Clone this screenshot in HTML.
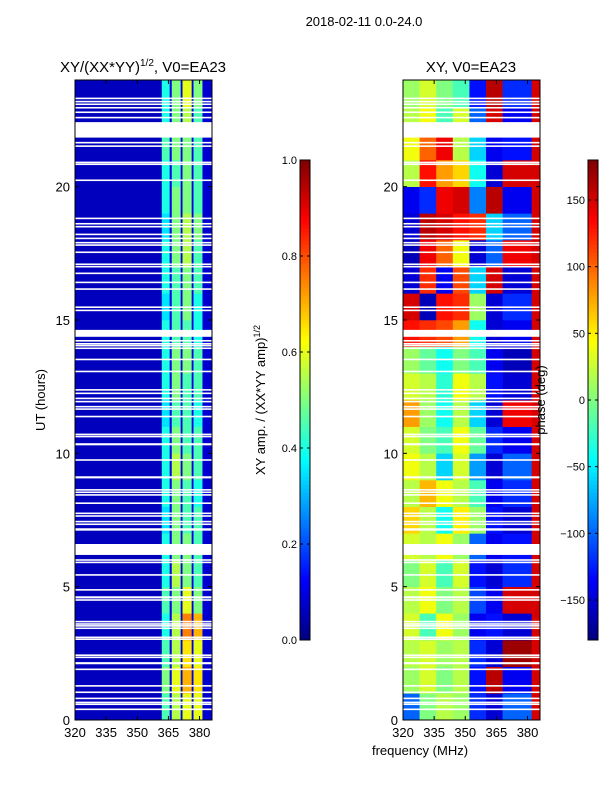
<!DOCTYPE html>
<html><head><meta charset="utf-8">
<style>
body{margin:0;background:#fff;}
svg{display:block;font-family:"Liberation Sans","DejaVu Sans",sans-serif;}
</style></head>
<body>
<svg id="fig" width="600" height="800" viewBox="0 0 600 800">
<text x="364" y="26" font-size="13" text-anchor="middle">2018-02-11 0.0-24.0</text>
<text x="143" y="72" font-size="15" text-anchor="middle">XY/(XX*YY)<tspan font-size="10" dy="-6">1/2</tspan><tspan dy="6">, V0=EA23</tspan></text>
<text x="471" y="72" font-size="15" text-anchor="middle">XY, V0=EA23</text>
<text transform="translate(45,400) rotate(-90)" font-size="13" text-anchor="middle">UT (hours)</text>
<text x="420" y="755" font-size="13" text-anchor="middle">frequency (MHz)</text>
<text transform="translate(265,400) rotate(-90)" font-size="13" text-anchor="middle">XY amp. / (XX*YY amp)<tspan font-size="9" dy="-5">1/2</tspan></text>
<g id="left"></g>
<g id="right"></g>
<g id="cb"></g>
<text transform="translate(545,400) rotate(-90)" font-size="13" text-anchor="middle">phase (deg)</text>
</svg>
<script>
const leftFreqEdges=[320,361.8,365.6,366.6,370.9,371.8,376.2,377.1,381.4,386];
const leftAmp=[
[0.06,0.45,0.1,0.55,0.1,0.6,0.1,0.6,0.08],
[0.06,0.5,0.1,0.6,0.1,0.7,0.1,0.65,0.08],
[0.06,0.45,0.1,0.55,0.1,0.65,0.1,0.6,0.08],
[0.06,0.4,0.1,0.55,0.1,0.75,0.1,0.7,0.08],
[0.06,0.45,0.1,0.5,0.1,0.6,0.1,0.5,0.08],
[0.06,0.4,0.1,0.55,0.1,0.5,0.1,0.45,0.08],
[0.06,0.4,0.1,0.5,0.1,0.5,0.1,0.45,0.08],
[0.06,0.35,0.1,0.5,0.1,0.45,0.1,0.45,0.08],
[0.06,0.4,0.1,0.5,0.1,0.45,0.1,0.4,0.08],
[0.06,0.4,0.1,0.55,0.1,0.5,0.1,0.45,0.08],
[0.06,0.4,0.1,0.5,0.1,0.45,0.1,0.45,0.08],
[0.06,0.35,0.1,0.45,0.1,0.45,0.1,0.4,0.08],
[0.06,0.4,0.1,0.5,0.1,0.45,0.1,0.45,0.08],
[0.06,0.4,0.1,0.5,0.1,0.5,0.1,0.45,0.08],
[0.06,0.4,0.1,0.45,0.1,0.45,0.1,0.4,0.08],
[0.06,0.35,0.1,0.45,0.1,0.5,0.1,0.4,0.08],
[0.06,0.4,0.1,0.45,0.1,0.5,0.1,0.45,0.08],
[0.06,0.4,0.1,0.5,0.1,0.55,0.1,0.45,0.08],
[0.06,0.35,0.1,0.5,0.1,0.55,0.1,0.5,0.08],
[0.06,0.4,0.1,0.5,0.1,0.5,0.1,0.45,0.08],
[0.06,0.4,0.1,0.45,0.1,0.5,0.1,0.45,0.08],
[0.06,0.45,0.1,0.5,0.1,0.5,0.1,0.45,0.08],
[0.06,0.4,0.1,0.5,0.1,0.55,0.1,0.45,0.08],
[0.06,0.4,0.1,0.5,0.1,0.6,0.1,0.5,0.08]];
const rightFreqEdges=[320,328,336,344,352,360,368,382,386];
const rightPhase=[
[-100,0,20,10,-120,-150,-100,150],
[10,30,0,20,-130,160,-140,150],
[20,30,10,20,-120,-150,170,150],
[30,-20,40,10,-140,-130,-150,150],
[20,40,0,20,-110,-140,150,150],
[0,30,-20,30,-130,-150,-120,150],
[30,20,40,10,-100,-140,-130,150],
[60,20,-40,50,10,-130,-150,150],
[20,70,40,20,-20,-140,-120,150],
[40,20,-60,30,-80,-150,-100,150],
[30,0,-20,40,-10,-120,-140,150],
[80,10,-40,20,-60,-150,140,150],
[30,20,-30,40,20,-130,-150,150],
[10,-10,-40,0,-20,-140,-160,150],
[130,120,110,80,-40,-150,-140,150],
[150,-160,130,120,10,-150,-120,150],
[-150,120,-140,110,-60,150,-150,150],
[-160,140,100,40,-150,-100,140,150],
[-150,160,150,130,120,-60,-100,150],
[-140,-120,140,150,-90,160,-140,150],
[20,130,80,60,-40,-150,150,150],
[40,100,140,20,-60,-140,-130,150],
[20,40,-20,30,-100,150,-140,150],
[10,30,0,-20,-130,160,-120,150]];
const timeEdges=[0,1,2,3,4,5,6,7,8,9,10,11,12,13,14,15,16,17,18,19,20,21,22,23,24];
const gapTimes=[23.31,23.19,23.09,22.96,22.79,22.59,21.65,21.52,20.91,20.84,20.24,18.81,18.61,18.5,18.21,18.06,17.9,17.81,17.54,17.09,17.0,16.75,16.41,16.16,15.48,15.36,14.22,14.11,14.04,13.94,13.52,12.38,12.25,12.06,11.94,11.75,11.66,11.38,10.71,10.63,9.75,8.63,8.54,8.44,8.13,7.75,7.65,7.44,7.34,6.0,5.91,5.44,4.88,4.5,3.69,3.6,3.53,3.44,3.1,3.03,2.43,2.35,1.9,1.28,1.04,0.81,0.66,0.59,0.4];
const wideGaps=[[21.84,22.42],[14.37,14.63],[13.04,13.1],[10.3,10.38],[9.06,9.14],[7.1,7.19],[6.19,6.6],[4.56,4.64],[2.09,2.17]];
const yTicks=[0,5,10,15,20];
const xTicks=[320,335,350,365,380];
const ampTicks=[0.0,0.2,0.4,0.6,0.8,1.0];
const phaseTicks=[-150,-100,-50,0,50,100,150];

const NS="http://www.w3.org/2000/svg";
function jet(v){v=Math.max(0,Math.min(1,v));
 const r=Math.max(0,Math.min(1,1.5-Math.abs(4*v-3)));
 const g=Math.max(0,Math.min(1,1.5-Math.abs(4*v-2)));
 const b=Math.max(0,Math.min(1,1.5-Math.abs(4*v-1)));
 return `rgb(${Math.round(r*255)},${Math.round(g*255)},${Math.round(b*255)})`;}
function mk(tag,at,parent){const e=document.createElementNS(NS,tag);for(const k in at)e.setAttribute(k,at[k]);parent.appendChild(e);return e;}
const Y0=80,Y1=720;
const yScale=t=>Y1-(t/24)*(Y1-Y0);
function panel(g,x0,x1,edges,vals,norm){
 const xs=f=>x0+(f-320)/(386-320)*(x1-x0);
 for(let r=0;r<vals.length;r++)for(let c=0;c<vals[r].length;c++){
  const xa=xs(edges[c]),xb=xs(edges[c+1]),ya=yScale(timeEdges[r+1]),yb=yScale(timeEdges[r]);
  const e=mk('rect',{x:xa,y:ya,width:xb-xa+0.3,height:yb-ya+0.3,fill:jet(norm(vals[r][c]))},g);
  
  
 }
 gapTimes.forEach(t=>{const e=mk('rect',{x:x0,y:yScale(t)-0.8,width:x1-x0,height:1.6,fill:'#fff'},g);
  
  });
 wideGaps.forEach(([a,b])=>{const e=mk('rect',{x:x0,y:yScale(b),width:x1-x0,height:yScale(a)-yScale(b),fill:'#fff'},g);
  
  });
 mk('rect',{x:x0,y:Y0,width:x1-x0,height:Y1-Y0,fill:'none',stroke:'#000','stroke-width':1},g);
 yTicks.forEach(t=>{const y=yScale(t);
  mk('line',{x1:x0,x2:x0+4,y1:y,y2:y,stroke:'#000'},g);mk('line',{x1:x1,x2:x1-4,y1:y,y2:y,stroke:'#000'},g);
  const e=mk('text',{x:x0-5,y:y+5,'font-size':13,'text-anchor':'end'},g);e.textContent=t;
  
  });
 xTicks.forEach(f=>{const x=xs(f);
  mk('line',{x1:x,x2:x,y1:Y1,y2:Y1-4,stroke:'#000'},g);mk('line',{x1:x,x2:x,y1:Y0,y2:Y0+4,stroke:'#000'},g);
  const e=mk('text',{x:x,y:737,'font-size':13,'text-anchor':'middle'},g);e.textContent=f;
  
  });
}
panel(document.getElementById('left'),75,212,leftFreqEdges,leftAmp,v=>v);
panel(document.getElementById('right'),403,540,rightFreqEdges,rightPhase,v=>(v+180)/360);
function colorbar(g,x,vmin,vmax,ticks,fmt){
 const top=160,bot=640;
 for(let i=0;i<120;i++){const e=mk('rect',{x:x,y:bot-(i+1)*(bot-top)/120,width:10,height:(bot-top)/120+0.5,fill:jet((i+0.5)/120)},g);
  
  }
 mk('rect',{x:x,y:top,width:10,height:bot-top,fill:'none',stroke:'#000'},g);
 ticks.forEach(t=>{const y=bot-(t-vmin)/(vmax-vmin)*(bot-top);
  mk('line',{x1:x,x2:x+3,y1:y,y2:y,stroke:'#000'},g);mk('line',{x1:x+10,x2:x+7,y1:y,y2:y,stroke:'#000'},g);
  const e=mk('text',{x:x-3,y:y+4,'font-size':11,'text-anchor':'end'},g);e.textContent=fmt(t);
  
  });
}
const cb=document.getElementById('cb');
colorbar(cb,300,0,1,ampTicks,t=>t.toFixed(1));
colorbar(cb,588,-180,180,phaseTicks,t=>t<0?'\u2212'+(-t):String(t));
</script>
</body></html>
